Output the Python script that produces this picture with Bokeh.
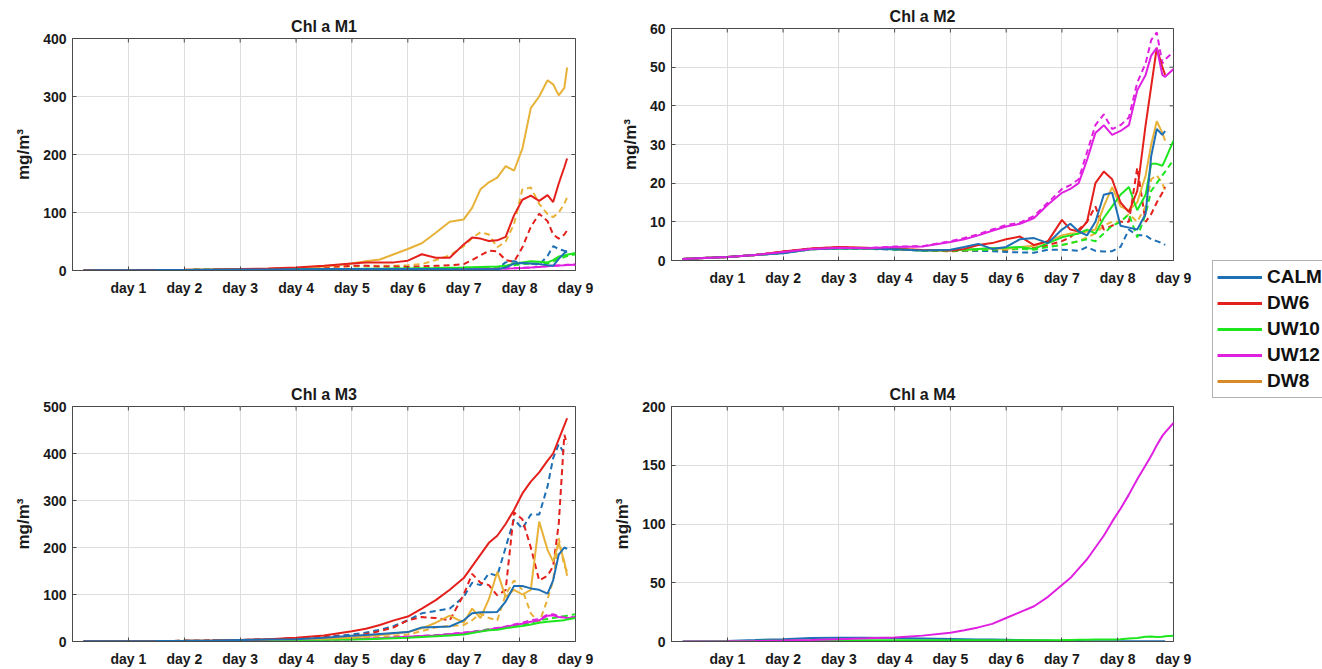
import numpy as np
from bokeh.plotting import figure
from bokeh.models import FixedTicker, Legend, LegendItem, Range1d
from bokeh.layouts import row, column
from bokeh.embed import file_html
from bokeh.resources import INLINE

# ---------------- data ----------------
DAYS = [0.2, 0.5, 1, 1.5, 2, 2.5, 3, 3.5, 4, 4.5, 5, 5.25, 5.5, 5.75, 6, 6.25, 6.5, 6.75,
        7, 7.15, 7.3, 7.45, 7.6, 7.75, 7.9, 8.05, 8.2, 8.35, 8.5, 8.6, 8.7, 8.8, 8.85, 9.0]
DAY_TICKS = [1, 2, 3, 4, 5, 6, 7, 8, 9]
DAY_LABELS = ["day 1", "day 2", "day 3", "day 4", "day 5", "day 6", "day 7", "day 8", "day 9"]
SCENARIOS = ["CALM", "DW6", "UW10", "UW12", "DW8"]
TITLES = ["Chl a M1", "Chl a M2", "Chl a M3", "Chl a M4"]
Y_TICKS_M1 = [0, 100, 200, 300, 400]
Y_TICKS_M2 = [0, 10, 20, 30, 40, 50, 60]
Y_TICKS_M3 = [0, 100, 200, 300, 400, 500]
Y_TICKS_M4 = [0, 50, 100, 150, 200]

# Panel M1
m1_calm = [0.2, 0.3, 0.5, 0.7, 1, 1.3, 1.6, 1.9, 2.2, 2.4, 2.5, 2.5, 2.5, 2.5, 2.5, 2.5, 2.4, 2.2, 2, 2, 2, 2, 2, 5, 12, 13, 12, 11, 9, 8, 20, 30, 33, None]
m1_calm_d = [0.2, 0.3, 0.5, 0.7, 1, 1.3, 1.6, 1.9, 2.2, 2.4, 2.5, 2.5, 2.5, 2.5, 2.5, 2.5, 2.4, 2.2, 2, 2, 2, 2.5, 3, 14, 16, 13, 12, 10, 25, 42, 37, 34, 33, None]
m1_dw6 = [0.3, 0.4, 0.6, 0.9, 1.2, 1.7, 2.5, 3.5, 5, 8, 12, 14, 14, 14, 17, 28, 22, 22, 45, 57, 55, 51, 52, 58, 95, 122, 129, 120, 130, 118, 150, 178, 193, None]
m1_dw6_d = [0.2, 0.3, 0.5, 0.7, 1, 1.3, 2, 2.6, 4, 6, 8, 8, 7, 7, 6, 7, 8, 9, 11, 18, 26, 34, 33, 18, 15, 40, 75, 98, 85, 62, 55, 62, 69, None]
m1_uw10 = [0.2, 0.3, 0.5, 0.7, 1, 1.3, 1.6, 1.9, 2.2, 2.5, 2.8, 3, 3.2, 3.4, 3.6, 3.9, 4.2, 4.6, 5, 5.5, 6, 6.5, 7, 8, 12, 14, 16, 15, 14, 18, 24, 26, 27, 30]
m1_uw10_d = [0.2, 0.3, 0.5, 0.7, 1, 1.3, 1.6, 1.9, 2.2, 2.5, 2.8, 3, 3.1, 3.3, 3.5, 3.7, 4, 4.3, 4.6, 5, 5.3, 5.6, 6, 7, 9, 11, 12, 12, 12, 16, 20, 23, 25, 28]
m1_uw12 = [0.1, 0.2, 0.3, 0.4, 0.5, 0.6, 0.7, 0.8, 0.9, 1, 1.1, 1.2, 1.3, 1.4, 1.5, 1.6, 1.7, 1.9, 2, 2.2, 2.5, 2.8, 3, 3.3, 3.7, 4.2, 5, 6, 7.5, 8, 8.5, 9, 9.5, 10]
m1_uw12_d = [0.1, 0.2, 0.3, 0.4, 0.5, 0.6, 0.7, 0.8, 0.9, 1, 1.1, 1.2, 1.3, 1.4, 1.5, 1.6, 1.8, 2, 2.2, 2.4, 2.7, 3, 3.2, 3.5, 4, 4.5, 5.3, 6.3, 7.8, 8.3, 8.8, 9.3, 9.8, 10.5]
m1_dw8 = [0.3, 0.4, 0.6, 0.9, 1.2, 1.7, 2.5, 3, 4, 7, 12, 16, 19, 28, 37, 47, 65, 84, 88, 108, 140, 152, 160, 180, 172, 210, 280, 300, 328, 321, 302, 315, 350, None]
m1_dw8_d = [0.2, 0.3, 0.5, 0.7, 1, 1.3, 2, 2.6, 4, 5, 7, 8, 8, 8, 9, 11, 18, 26, 42, 56, 66, 62, 40, 50, 80, 140, 143, 115, 97, 92, 100, 115, 126, None]

# Panel M2
m2_calm = [0.4, 0.6, 0.9, 1.4, 1.9, 2.9, 3.1, 3.1, 2.9, 2.6, 2.8, 3.5, 4.3, 3, 3.5, 5.5, 5.8, 4.5, 8, 9.5, 7.5, 6.5, 10, 17, 17.5, 9, 8.5, 8, 12, 27, 34, 32.5, 33.5, None]
m2_calm_d = [0.4, 0.6, 0.9, 1.4, 1.9, 2.9, 3.1, 3, 2.8, 2.6, 2.7, 2.6, 2.5, 2.4, 2.2, 2.1, 2, 2.8, 2.8, 2.7, 2.5, 3.5, 2.5, 2.3, 2.4, 3.5, 8, 6.5, 6.5, 5.5, 5, 4.5, 4, None]
m2_dw6 = [0.4, 0.6, 0.9, 1.4, 2.3, 3.1, 3.5, 3.3, 3, 2.7, 2.6, 3, 4, 4.5, 5.5, 6.2, 4, 5, 10.5, 8, 7.5, 10, 20, 23, 21, 15, 12.5, 18, 35, 45, 55, 50, 48, None]
m2_dw6_d = [0.4, 0.6, 0.9, 1.4, 2.3, 3.1, 3.4, 3.2, 3, 2.6, 2.4, 2.5, 2.6, 2.7, 2.8, 3, 3.2, 4, 5, 6, 8, 10, 14, 8, 9, 10, 10, 24, 10, 12, 15, 17.5, 19, None]
m2_uw10 = [0.4, 0.6, 0.9, 1.4, 2, 2.9, 3.2, 3.1, 2.9, 2.6, 2.6, 2.8, 3, 3.2, 3.3, 3.5, 3, 4.5, 6, 6.5, 7, 8, 7, 11, 14, 17, 19, 13, 17, 25, 25, 24.5, 26, 31]
m2_uw10_d = [0.4, 0.6, 0.9, 1.4, 2, 2.9, 3.2, 3.1, 2.9, 2.6, 2.5, 2.6, 2.7, 2.8, 2.9, 3, 2.8, 3.5, 4, 4.5, 5, 5.5, 5, 7, 9, 10, 12, 6, 12, 18, 20, 22, 23, 26]
m2_uw12 = [0.4, 0.6, 0.9, 1.4, 2.2, 3, 3.3, 3.2, 3.5, 3.6, 4.8, 5.5, 6.5, 7.7, 8.8, 9.5, 11, 14.5, 17.5, 18.5, 20, 26, 33, 35, 32.5, 33.5, 35, 44, 48, 53, 55, 48, 47.5, 49.5]
m2_uw12_d = [0.4, 0.6, 0.9, 1.4, 2.2, 3, 3.3, 3.2, 3.6, 3.7, 5, 5.8, 6.8, 8, 9.2, 9.8, 11.5, 15, 18.5, 19.5, 21, 28, 35, 37.8, 34, 35, 37, 46, 51, 57, 59, 51, 52, 54]
m2_dw8 = [0.4, 0.6, 0.9, 1.4, 2.1, 3, 3.3, 3.2, 3, 2.7, 2.7, 2.8, 3, 3.2, 3, 3.5, 3.8, 5, 6.5, 7, 7, 7.5, 8, 14, 19, 14, 13, 15, 22, 30, 36, 33, 31, None]
m2_dw8_d = [0.4, 0.6, 0.9, 1.4, 2.1, 3, 3.3, 3.2, 3, 2.6, 2.5, 2.6, 2.6, 2.7, 2.8, 3, 3.2, 3.6, 4, 4.5, 5, 6, 7, 9, 10, 10, 12, 10, 14, 21, 22, 20, 18, None]

# Panel M3
m3_calm = [0.3, 0.4, 0.7, 1, 1.4, 2, 3, 4, 5, 8, 12, 14, 16, 18, 20, 30, 31, 32, 45, 60, 62, 62, 63, 85, 118, 118, 113, 110, 102, 130, 185, 200, 197, None]
m3_calm_d = [0.3, 0.4, 0.7, 1, 1.4, 2, 3, 4.5, 7, 10, 15, 19, 25, 33, 45, 60, 65, 70, 95, 125, 120, 145, 140, 200, 260, 240, 270, 270, 330, 390, 420, 400, 400, None]
m3_dw6 = [0.3, 0.4, 0.7, 1, 1.4, 2, 3, 5, 8, 13, 22, 27, 35, 45, 53, 70, 88, 110, 135, 160, 185, 210, 225, 250, 280, 315, 340, 360, 385, 400, 430, 460, 475, None]
m3_dw6_d = [0.3, 0.4, 0.7, 1, 1.4, 2, 3, 4.5, 7, 9, 12, 16, 22, 30, 45, 52, 50, 45, 100, 144, 125, 120, 98, 110, 275, 260, 200, 130, 140, 160, 250, 440, 420, None]
m3_uw10 = [0.2, 0.3, 0.5, 0.8, 1.1, 1.5, 2, 2.5, 3, 3.5, 4, 5, 6, 7, 8, 9.5, 11, 13, 15, 18, 21, 24, 25, 28, 31, 33, 36, 40, 42, 43, 44, 45, 47, 50]
m3_uw10_d = [0.2, 0.3, 0.5, 0.8, 1.1, 1.5, 2, 2.5, 3, 3.8, 5, 6, 7, 8, 9, 11, 13, 15, 17, 20, 23, 26, 27, 30, 34, 36, 40, 45, 48, 50, 52, 54, 55, 58]
m3_uw12 = [0.2, 0.3, 0.5, 0.8, 1.1, 1.5, 2, 2.5, 3, 4, 5, 6, 7, 8.5, 10, 11.5, 13, 15.5, 18, 20, 22, 25, 28, 31, 35, 38, 42, 45, 55, 56, 52, 51, 50, 50]
m3_uw12_d = [0.2, 0.3, 0.5, 0.8, 1.1, 1.5, 2, 2.5, 3, 4, 5, 6, 7, 8.5, 10, 12, 13.5, 16, 19, 21, 23, 26, 29, 32, 36, 40, 45, 48, 57, 58, 54, 52, 51, 52]
m3_dw8 = [0.3, 0.4, 0.7, 1, 1.4, 2, 3, 4, 5, 6, 8, 11, 14, 17, 20, 28, 40, 55, 40, 70, 50, 90, 148, 95, 110, 100, 110, 255, 195, 170, 210, 170, 140, None]
m3_dw8_d = [0.3, 0.4, 0.7, 1, 1.4, 2, 3, 3.5, 4, 5, 6, 8, 10, 12, 15, 22, 30, 33, 35, 45, 60, 50, 45, 100, 130, 110, 60, 40, 90, 130, 220, 160, 150, None]

# Panel M4
m4_calm = [0, 0.2, 0.5, 1.2, 2, 3, 3.2, 3.2, 3, 2.6, 2.2, 2, 1.8, 1.7, 1.5, 1.3, 1.1, 0.8, 0.5, 0.4, 0.4, 0.3, 0.3, 0.3, 0.3, 0.3, 0.3, 0.3, 0.3, 0.3, 0.3, 0.3, 0.3, None]
m4_uw10 = [0, 0.1, 0.3, 0.5, 0.7, 0.8, 0.9, 1, 1, 1, 1, 1, 1, 1, 1, 1, 1, 1.1, 1.2, 1.3, 1.4, 1.5, 1.6, 1.7, 1.8, 2, 2.5, 3, 4, 4.3, 3.8, 4, 4.5, 4.8]
m4_uw12 = [0, 0.1, 0.2, 0.4, 0.8, 1.3, 2, 2.7, 3.5, 5, 7.5, 9.5, 12, 15, 20, 25, 30, 38, 48, 54, 62, 70, 80, 90, 102, 113, 125, 138, 150, 158, 167, 175, 178, 186]

# ---------------- style ----------------
COLORS = {"CALM": "#1f6fb4", "DW6": "#e3201c", "UW10": "#1ee61e", "UW12": "#e020e0", "DW8": "#e8b238"}
LEGEND_COLORS = {"CALM": "#1f6fb4", "DW6": "#e3201c", "UW10": "#1ee61e", "UW12": "#e020e0", "DW8": "#d98a28"}
FONT = "Liberation Sans"
AXC = "#4a4a4a"
TXT = "#1a1a1a"


def make_panel(title, ymax, yticks, width, height, mbl, mbr, mbt, mbb):
    p = figure(width=width, height=height, x_range=Range1d(0, 9), y_range=Range1d(0, ymax),
               toolbar_location=None, output_backend="svg",
               min_border_left=mbl, min_border_right=mbr, min_border_top=mbt, min_border_bottom=mbb)
    p.title.text = title
    p.title.align = "center"
    p.title.text_font = FONT
    p.title.text_font_size = "16px"
    p.title.text_font_style = "bold"
    p.title.text_color = TXT
    p.title.standoff = 8
    p.outline_line_color = AXC
    p.outline_line_width = 1
    p.background_fill_color = "white"
    p.border_fill_color = "white"

    xa = p.xaxis[0]
    xa.ticker = FixedTicker(ticks=DAY_TICKS)
    xa.major_label_overrides = {t: lab for t, lab in zip(DAY_TICKS, DAY_LABELS)}
    ya = p.yaxis[0]
    ya.ticker = FixedTicker(ticks=yticks)
    ya.axis_label = "mg/m³"
    ya.axis_label_text_font = FONT
    ya.axis_label_text_font_size = "17px"
    ya.axis_label_text_font_style = "bold"
    ya.axis_label_text_color = TXT
    ya.axis_label_standoff = 7
    for ax in (xa, ya):
        ax.major_label_text_font = FONT
        ax.major_label_text_font_size = "14px"
        ax.major_label_text_font_style = "bold"
        ax.major_label_text_color = TXT
        ax.major_tick_in = 4
        ax.major_tick_out = 0
        ax.minor_tick_line_color = None
        ax.axis_line_color = AXC
        ax.major_tick_line_color = AXC
    xa.major_label_standoff = 9
    ya.major_label_standoff = 6

    # inward tick marks on the top and right edges of the box (clipped to the frame)
    p.scatter(DAY_TICKS, [ymax] * len(DAY_TICKS), marker="dash", size=8, angle=np.pi / 2,
              line_color=AXC, line_width=1)
    p.scatter([9] * len(yticks), yticks, marker="dash", size=8, line_color=AXC, line_width=1)

    p.xgrid.ticker = FixedTicker(ticks=DAY_TICKS)
    p.ygrid.ticker = FixedTicker(ticks=yticks)
    for g in (p.xgrid[0], p.ygrid[0]):
        g.grid_line_color = "#dedede"
        g.grid_line_width = 1
    return p


def draw(p, series):
    x = np.array(DAYS, dtype=float)
    for name, vals, dashed in series:
        y = np.array(vals, dtype=float)
        p.line(x, y, line_color=COLORS[name], line_width=2,
               line_dash="6 4" if dashed else "solid")


p1 = make_panel(TITLES[0], 400, Y_TICKS_M1, 610, 338, 72, 18, 38, 68)
draw(p1, [("DW8", m1_dw8_d, True), ("DW6", m1_dw6_d, True), ("CALM", m1_calm_d, True),
          ("UW10", m1_uw10_d, True), ("UW12", m1_uw12_d, True),
          ("DW8", m1_dw8, False), ("UW12", m1_uw12, False), ("UW10", m1_uw10, False),
          ("DW6", m1_dw6, False), ("CALM", m1_calm, False)])

p2 = make_panel(TITLES[1], 60, Y_TICKS_M2, 595, 338, 49, 25, 28, 78)
draw(p2, [("DW8", m2_dw8_d, True), ("DW6", m2_dw6_d, True), ("CALM", m2_calm_d, True),
          ("UW10", m2_uw10_d, True), ("UW12", m2_uw12_d, True),
          ("DW8", m2_dw8, False), ("UW10", m2_uw10, False), ("DW6", m2_dw6, False),
          ("CALM", m2_calm, False), ("UW12", m2_uw12, False)])

p3 = make_panel(TITLES[2], 500, Y_TICKS_M3, 610, 331, 65, 35, 68, 26)
draw(p3, [("UW12", m3_uw12_d, True), ("UW10", m3_uw10_d, True), ("DW8", m3_dw8_d, True),
          ("CALM", m3_calm_d, True), ("DW6", m3_dw6_d, True),
          ("UW12", m3_uw12, False), ("UW10", m3_uw10, False), ("DW8", m3_dw8, False),
          ("DW6", m3_dw6, False), ("CALM", m3_calm, False)])

p4 = make_panel(TITLES[3], 200, Y_TICKS_M4, 595, 331, 51, 32, 68, 26)
draw(p4, [("CALM", m4_calm, False), ("UW10", m4_uw10, False), ("UW12", m4_uw12, False)])

# legend panel (its lines hold no visible data; they only carry the legend styles)
leg = figure(width=117, height=669, x_range=Range1d(0, 1), y_range=Range1d(0, 1),
             toolbar_location=None, output_backend="svg", min_border=0)
leg.axis.visible = False
leg.grid.visible = False
leg.outline_line_color = None
items = []
for name in SCENARIOS:
    r = leg.line(x=[np.nan, np.nan], y=[np.nan, np.nan], line_color=LEGEND_COLORS[name], line_width=3)
    items.append(LegendItem(label=name, renderers=[r]))
legend = Legend(items=items, location=(7, 271), label_text_font=FONT, label_text_font_size="19px",
                label_text_font_style="bold", label_text_color="#111111",
                glyph_width=45, glyph_height=24, label_height=24, label_standoff=5,
                spacing=2, padding=4, margin=0, border_line_color="#666666",
                border_line_width=1, background_fill_color="white", background_fill_alpha=1)
leg.add_layout(legend, "center")

layout = row(column(p1, p3), column(p2, p4), leg)
open("out.html", "w").write(file_html(layout, INLINE))
